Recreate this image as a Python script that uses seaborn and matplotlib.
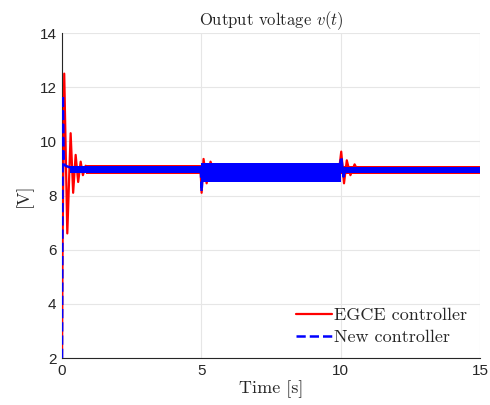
import numpy as np
import pandas as pd
import seaborn as sns
import matplotlib
matplotlib.use("Agg")
import matplotlib.pyplot as plt
from matplotlib.lines import Line2D

# ---- data ----
# start-up transients (time [s], voltage [V])
egce_start_t = [0.0, 0.02, 0.08, 0.19, 0.31, 0.40, 0.49, 0.58, 0.67, 0.75, 0.85, 0.95]
egce_start_v = [2.0, 6.1, 12.5, 6.6, 10.3, 8.1, 9.5, 8.5, 9.25, 8.75, 9.1, 8.9]
new_start_t = [0.0, 0.03, 0.06, 0.12, 0.25, 0.45]
new_start_v = [2.0, 11.7, 9.2, 9.1, 9.05, 9.0]

# load-step transients
egce_step5_t = [4.97, 5.01, 5.08, 5.19, 5.33, 5.45]
egce_step5_v = [9.0, 8.1, 9.35, 8.45, 9.25, 8.9]
new_step5_t = [4.98, 5.01, 5.06, 5.15]
new_step5_v = [9.0, 8.15, 9.2, 8.6]
egce_step10_t = [9.95, 10.02, 10.12, 10.22, 10.35, 10.5, 10.65]
egce_step10_v = [9.0, 9.62, 8.45, 9.3, 8.75, 9.15, 8.85]
new_step10_t = [9.97, 10.02, 10.1, 10.2]
new_step10_v = [9.0, 9.43, 8.7, 9.05]

# ripple band envelopes (dense switching ripple)
egce_band_t = [0.85, 5.0, 5.0, 10.0, 10.0, 15.0]
egce_band_hi = [9.12, 9.12, 9.17, 9.17, 9.08, 9.08]
egce_band_lo = [8.8, 8.8, 8.53, 8.53, 8.81, 8.81]
new_band_t = [0.3, 5.0, 5.0, 10.0, 10.0, 15.0]
new_band_hi = [9.09, 9.09, 9.2, 9.2, 9.07, 9.07]
new_band_lo = [8.83, 8.83, 8.5, 8.5, 8.83, 8.83]

x_ticks = [0, 5, 10, 15]
y_ticks = [2, 4, 6, 8, 10, 12, 14]
series_labels = ["EGCE controller", "New controller"]

# ---- styling ----
sns.set_style("white")
plt.rcParams["mathtext.fontset"] = "cm"
plt.rcParams["font.family"] = ["Liberation Sans", "DejaVu Sans"]
serif = ["cmr10", "DejaVu Serif"]

red = "#ff0000"
blue = "#0000ff"

fig = plt.figure(figsize=(4.9, 4.05), dpi=100)
ax = fig.add_axes([62 / 490, 1 - 358 / 405, (480 - 62) / 490, (358 - 33) / 405])

# EGCE controller (red, solid)
ax.fill_between(egce_band_t, egce_band_lo, egce_band_hi, color=red, lw=0, zorder=2)
for tt, vv in [(egce_start_t, egce_start_v), (egce_step5_t, egce_step5_v),
               (egce_step10_t, egce_step10_v)]:
    sns.lineplot(x=tt, y=vv, ax=ax, color=red, lw=1.6, sort=False,
                 estimator=None, zorder=3)

# New controller (blue, dashed)
ax.fill_between(new_band_t, new_band_lo, new_band_hi, color=blue, lw=0, zorder=4)
for tt, vv in [(new_start_t, new_start_v), (new_step5_t, new_step5_v),
               (new_step10_t, new_step10_v)]:
    sns.lineplot(x=tt, y=vv, ax=ax, color=blue, lw=1.8, sort=False,
                 estimator=None, zorder=5, linestyle="--")

ax.set_xlim(0, 15)
ax.set_ylim(2, 14)
ax.set_xticks(x_ticks)
ax.set_yticks(y_ticks)
ax.grid(True, color="#e6e6e6", lw=0.8, zorder=0)
ax.set_axisbelow(True)
for s in ["top", "right"]:
    ax.spines[s].set_visible(False)
for s in ["left", "bottom"]:
    ax.spines[s].set_color("#262626")
    ax.spines[s].set_linewidth(0.8)
ax.tick_params(direction="in", length=4, width=0.8, colors="#262626",
               labelsize=11, pad=4)

ax.set_title("Output voltage $v(t)$", fontfamily=serif, fontsize=12, pad=6)
ax.set_xlabel("Time [s]", fontfamily=serif, fontsize=13, labelpad=2)
ax.set_ylabel("[V]", fontfamily=serif, fontsize=13, labelpad=5)

handles = [Line2D([], [], color=red, lw=1.6),
           Line2D([], [], color=blue, lw=1.8, linestyle="--")]
leg = ax.legend(handles, series_labels, loc="lower right", frameon=False,
                prop={"family": serif, "size": 13}, handlelength=2.0,
                handletextpad=0.1, labelspacing=0.35, borderaxespad=0.3)

fig.savefig("out.png", dpi=100)
